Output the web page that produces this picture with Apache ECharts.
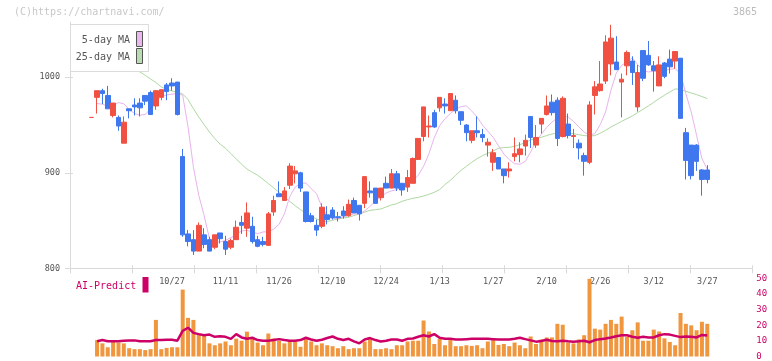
<!DOCTYPE html>
<html><head><meta charset="utf-8">
<script src="https://cdn.jsdelivr.net/npm/echarts@6/dist/echarts.min.js"></script>
<style>html,body{margin:0;padding:0;background:#fff}#c{width:772px;height:361px}</style>
</head><body><div id="c"></div>
<script>
// [open, close, low, high] per trading day (index 0..115)
const ohlc = [
[958,958,958,958],[979,986,962,986],[986,983,972,988],[981,967,967,991],[960,973,958,973],
[958,949,944,960],[931,953,931,959],[967,965,957,967],[971,969,960,978],[973,968,959,978],
[981,975,971,981],[984,961,961,986],[970,986,966,986],[979,987,976,987],[992,985,976,994],
[994,991,986,999],[995,961,960,995],[917,835,833,925],[836,828,823,840],[830,818,814,840],
[818,845,818,848],[835,825,821,842],[830,818,818,833],[822,835,820,835],[837,831,826,837],
[828,820,814,834],[822,829,820,831],[830,843,830,850],[848,845,836,855],[842,858,833,869],
[844,828,826,854],[830,823,822,834],[828,825,823,833],[824,857,824,859],[859,871,855,876],
[878,875,875,891],[871,881,871,885],[887,907,883,910],[899,902,889,907],[900,884,880,901],
[880,849,848,880],[855,849,848,858],[845,840,834,851],[844,864,842,868],[856,851,846,865],
[861,853,851,864],[854,853,849,859],[860,855,852,865],[855,867,854,872],[871,858,858,874],
[866,857,850,866],[868,896,863,896],[881,879,874,891],[884,868,868,884],[874,884,871,884],
[889,884,884,896],[884,899,884,904],[899,884,881,902],[889,882,876,889],[885,895,880,903],
[889,915,889,916],[914,936,914,936],[938,969,933,969],[948,949,937,960],[963,948,947,966],
[968,979,964,979],[972,970,962,978],[965,983,965,983],[976,965,962,981],[964,955,950,964],
[950,942,933,951],[934,944,931,944],[944,942,937,959],[940,937,932,946],[929,932,917,936],
[911,921,902,925],[916,904,904,916],[904,897,889,904],[902,904,895,911],[917,920,912,937],
[919,925,911,932],[928,934,918,940],[959,937,926,959],[929,937,926,950],[951,957,941,957],
[961,970,960,981],[974,963,960,982],[976,936,928,979],[938,978,937,980],[951,939,936,962],
[938,939,926,946],[931,926,914,935],[918,912,897,921],[911,971,909,975],[981,990,961,996],
[986,993,985,1017],[996,1037,993,1044],[1014,1041,1002,1055],[1016,1008,1008,1043],[995,998,958,1004],
[1012,1026,1002,1028],[1017,1005,992,1022],[969,1005,964,1013],[1028,999,996,1028],[1023,1013,1012,1038],
[1012,1007,985,1017],[991,1013,991,1022],[1015,1001,999,1016],[1019,1011,1004,1029],[1017,1027,1009,1027],
[1020,957,957,1020],[942,913,893,947],[929,897,893,929],[929,912,902,930],[903,893,876,904],
[903,893,889,908]
];
const ma5 = [null,
972.5,971.9,969.8,970.1,973.6,972.2,966.3,962.1,960.3,961,967.3,975.3,979.5,981.6,982.3,983,981.2,948,906,876.4,
855.3,831,827.6,827.6,829.3,832.1,835.6,839.1,839.8,838,836.3,838,838.5,841,846,857,875,885,889,889.3,
883.4,878.2,864.2,854.4,852,852,853.7,855.5,856.9,857,860,864.9,870.2,874.7,878.9,881,882.4,885.2,886.9,891.4,
897.4,906.8,920.1,936.9,949.4,956.7,962,966.5,969.3,970,964.7,958.4,950,943.5,937.2,928.1,919.7,913.8,909.6,908.9,
912,921.8,933,940.3,947.6,953.2,957.4,959.5,958.4,953.9,948,942.7,939.3,941,950.4,963.7,986.4,1004.5,1012.6,1016,
1020.2,1013.3,1007.3,1005.6,1006.3,1005.6,1007.3,1008.4,1009.1,1003.8,982.9,963.7,939.3,914.9,903.7];
const ma25 = [null,
1035.6,1031.7,1027.9,1024.4,1020.6,1016.8,1013.3,1009.4,1005.6,1002.1,998.2,994.5,989.9,987.4,985.7,984.3,982.5,976.6,967.2,958.4,
950.4,942.7,935.8,930,925.7,920.1,914.5,908.9,904,900.5,897.4,893.2,888.7,884.1,879.6,874.7,870.2,865.6,861.4,857.9,
854.5,851.6,849.6,848.9,850.3,851.6,852.7,853.4,855.2,857,858.9,860.7,861.4,862.1,864.2,866.3,867.7,870.2,871.9,873.3,
874.3,875.7,877.5,879.6,882.4,887.6,892.1,897.4,902.6,906.8,911,914.8,918,920.4,922.9,925.7,926.4,926.7,927.7,929.5,
931.6,934.4,936.1,937.2,939,940.6,941.7,942.1,941.7,940.9,939.9,939,938.4,939,941.4,944.5,948,950.8,953.9,956.7,
959.5,963,966.5,970,973.8,977.7,981.2,984.6,987.8,987.4,985.3,983.6,981.9,979.8,977.7];
const volume = [null,
10.5,8.4,5.9,9.5,8.9,8.4,5.3,4.7,4.7,4.1,4.7,23.4,4.7,5.5,5.9,5.9,42.8,24.7,23.4,14.7,
13.6,8.4,7.2,8.4,9.6,7.2,11.4,10.1,15.9,12,8.9,7.2,14.7,11.6,10.1,8.4,10.1,9.5,6.2,11.4,
9.6,7.2,8.4,7.2,6.6,5.3,6.6,4.7,5.3,5.3,9.6,11.4,4.7,4.7,5.3,4.7,7.2,7.2,9.6,10.1,
10.1,23,16,8,11.4,7.2,10.5,6.6,6.6,7.2,6.8,7.2,5.3,9.6,10.5,7.4,8,6.6,8.9,7.2,
5.3,12.8,8,10.9,12.2,12.2,20.9,20.3,8.9,8.4,10.9,13.6,49.7,17.8,17.2,20.9,23.4,20.9,25.5,12.6,
16.8,21.8,10.1,10.1,17.2,16,11.6,9.3,7.2,27.8,20.9,19.9,16.8,22.2,20.9];
const predict = [null,
9.7,10.5,9.7,9.7,9.7,10.1,10.3,10.3,9.7,9.7,9.7,10.5,10.5,10.7,10.7,10.1,16.4,18.4,15.1,14.3,
13.6,14,12.6,13,12.6,11.3,14.3,12.2,11.3,12,10.5,10.1,10.1,10.5,11.1,10.5,10.1,10.1,10.5,12,
10.9,10.1,10.7,11.8,12.8,11.3,10.5,11.3,9.7,8.4,10.9,11.8,10.5,9.6,10.1,10.9,10.9,10.1,11.3,11.5,
12.6,13.6,12.8,14.3,12,11.3,11.3,10.9,10.9,11.1,11.3,11.3,11.3,11.3,11.1,10.9,10.9,10.9,11.3,12,
11.1,10.3,9.5,9.9,10.7,9.9,9.7,10.1,9.7,9.5,9.7,10.1,9.1,10.5,11.1,11.5,12.2,13,13.6,13.6,
12.6,12,12.6,12.2,12.2,13.6,14.3,14,13.2,12.4,12.8,12.6,12.2,13.8,13.4];
const tickLabels = ['10/27','11/11','11/26','12/10','12/24','1/13','1/27','2/10','2/26','3/12','3/27'];
const tickIndex  = [15,25,35,45,55,65,75,85,95,105,115];
const priceTicks = [800,900,1000];

const FONT = '"DejaVu Sans Mono","Liberation Mono",monospace';
const X0 = -4.054, X1 = 123.41;
const AX = '#d9d9d9';
const UP = '#f15142', DOWN = '#3f78ee';
const pairs = arr => arr.map((v,i)=>v==null?null:[i,v]).filter(d=>d);

const chart = echarts.init(document.getElementById('c'));
chart.setOption({
  animation:false,
  backgroundColor:'#fff',
  grid:[
    {left:70,right:19.7,top:22,bottom:92.7},
    {left:70,right:19.7,top:278.3,bottom:2.7}
  ],
  xAxis:[
    {type:'value',gridIndex:0,position:'bottom',min:X0,max:X1,axisLine:{show:false,onZero:false},axisTick:{show:false},splitLine:{show:false},
     axisLabel:{customValues:tickIndex,margin:9,color:'#555',fontFamily:FONT,fontSize:8.5,
       formatter:v=>tickLabels[tickIndex.indexOf(Math.round(v))]||''}},
    {type:'value',gridIndex:0,position:'bottom',min:0,max:11,interval:1,axisLine:{show:true,onZero:false,lineStyle:{color:AX}},
     axisTick:{show:true,length:5,lineStyle:{color:AX}},axisLabel:{show:false},splitLine:{show:false}},
    {type:'value',gridIndex:0,position:'bottom',min:0,max:11,interval:1,axisLine:{show:false,onZero:false},
     axisTick:{show:true,inside:true,length:3,lineStyle:{color:AX}},axisLabel:{show:false},splitLine:{show:false}},
    {type:'value',gridIndex:1,position:'bottom',min:X0,max:X1,show:false}
  ],
  yAxis:[
    {type:'value',gridIndex:0,min:800,max:1057.9,position:'left',axisLine:{show:true,onZero:false,lineStyle:{color:AX}},
     axisTick:{show:true,length:5,customValues:priceTicks,lineStyle:{color:AX}},
     axisLabel:{customValues:priceTicks,margin:10,color:'#555',fontFamily:FONT,fontSize:8.5,formatter:v=>String(v)},splitLine:{show:false}},
    {type:'value',gridIndex:0,min:800,max:1057.9,position:'left',axisLine:{show:false,onZero:false},
     axisTick:{show:true,inside:true,length:3,customValues:priceTicks,lineStyle:{color:AX}},
     axisLabel:{show:false},splitLine:{show:false}},
    {type:'value',gridIndex:1,min:0,max:50,interval:10,position:'right',axisLine:{show:false},axisTick:{show:false},
     splitLine:{show:false},axisLabel:{margin:4,color:'#cc0066',fontFamily:FONT,fontSize:9}}
  ],
  series:[
    {type:'line',name:'25-day MA',xAxisIndex:0,yAxisIndex:0,data:pairs(ma25),symbol:'none',z:1,
     lineStyle:{color:'#afd8a2',width:1}},
    {type:'line',name:'5-day MA',xAxisIndex:0,yAxisIndex:0,data:pairs(ma5),symbol:'none',z:1,
     lineStyle:{color:'#e9b3ee',width:1}},
    {type:'candlestick',xAxisIndex:0,yAxisIndex:0,z:3,barWidth:5,
     encode:{x:0,y:[1,2,3,4]},
     data:ohlc.map((d,i)=>[i,d[0],d[1],d[2],d[3]]),
     itemStyle:{color:UP,color0:DOWN,borderColor:UP,borderColor0:DOWN,borderColorDoji:UP,borderWidth:1}},
    {type:'bar',xAxisIndex:3,yAxisIndex:2,data:pairs(volume),barWidth:4,z:2,
     itemStyle:{color:'#f0963f'}},
    {type:'line',xAxisIndex:3,yAxisIndex:2,data:pairs(predict),symbol:'none',z:4,
     lineStyle:{color:'#cc0066',width:2.5}}
  ],
  graphic:[
    {type:'text',z:100,style:{text:'(C)https://chartnavi.com/',x:14,y:12.5,font:'10px '+FONT,fill:'#c8c8c8',verticalAlign:'middle'}},
    {type:'text',z:100,style:{text:'3865',x:757,y:12.5,font:'10px '+FONT,fill:'#bcbcbc',align:'right',verticalAlign:'middle'}},
    {type:'rect',z:100,shape:{x:70.5,y:24.5,width:78,height:47},style:{fill:'#fff',stroke:'#dcdcdc',lineWidth:1}},
    {type:'text',z:101,style:{text:'5-day MA',x:130,y:40,font:'10px '+FONT,fill:'#555',align:'right',verticalAlign:'middle'}},
    {type:'rect',z:101,shape:{x:136.5,y:31.5,width:6,height:15},style:{fill:'#eab8ec',stroke:'#555',lineWidth:1}},
    {type:'text',z:101,style:{text:'25-day MA',x:130,y:57,font:'10px '+FONT,fill:'#555',align:'right',verticalAlign:'middle'}},
    {type:'rect',z:101,shape:{x:136.5,y:48.5,width:6,height:15},style:{fill:'#b9dcb1',stroke:'#555',lineWidth:1}},
    {type:'text',z:100,style:{text:'AI-Predict',x:76,y:286.5,font:'10px '+FONT,fill:'#cc0066',verticalAlign:'middle'}},
    {type:'rect',z:100,shape:{x:142.5,y:277,width:6,height:15.5},style:{fill:'#cc0066'}}
  ]
});
</script></body></html>
